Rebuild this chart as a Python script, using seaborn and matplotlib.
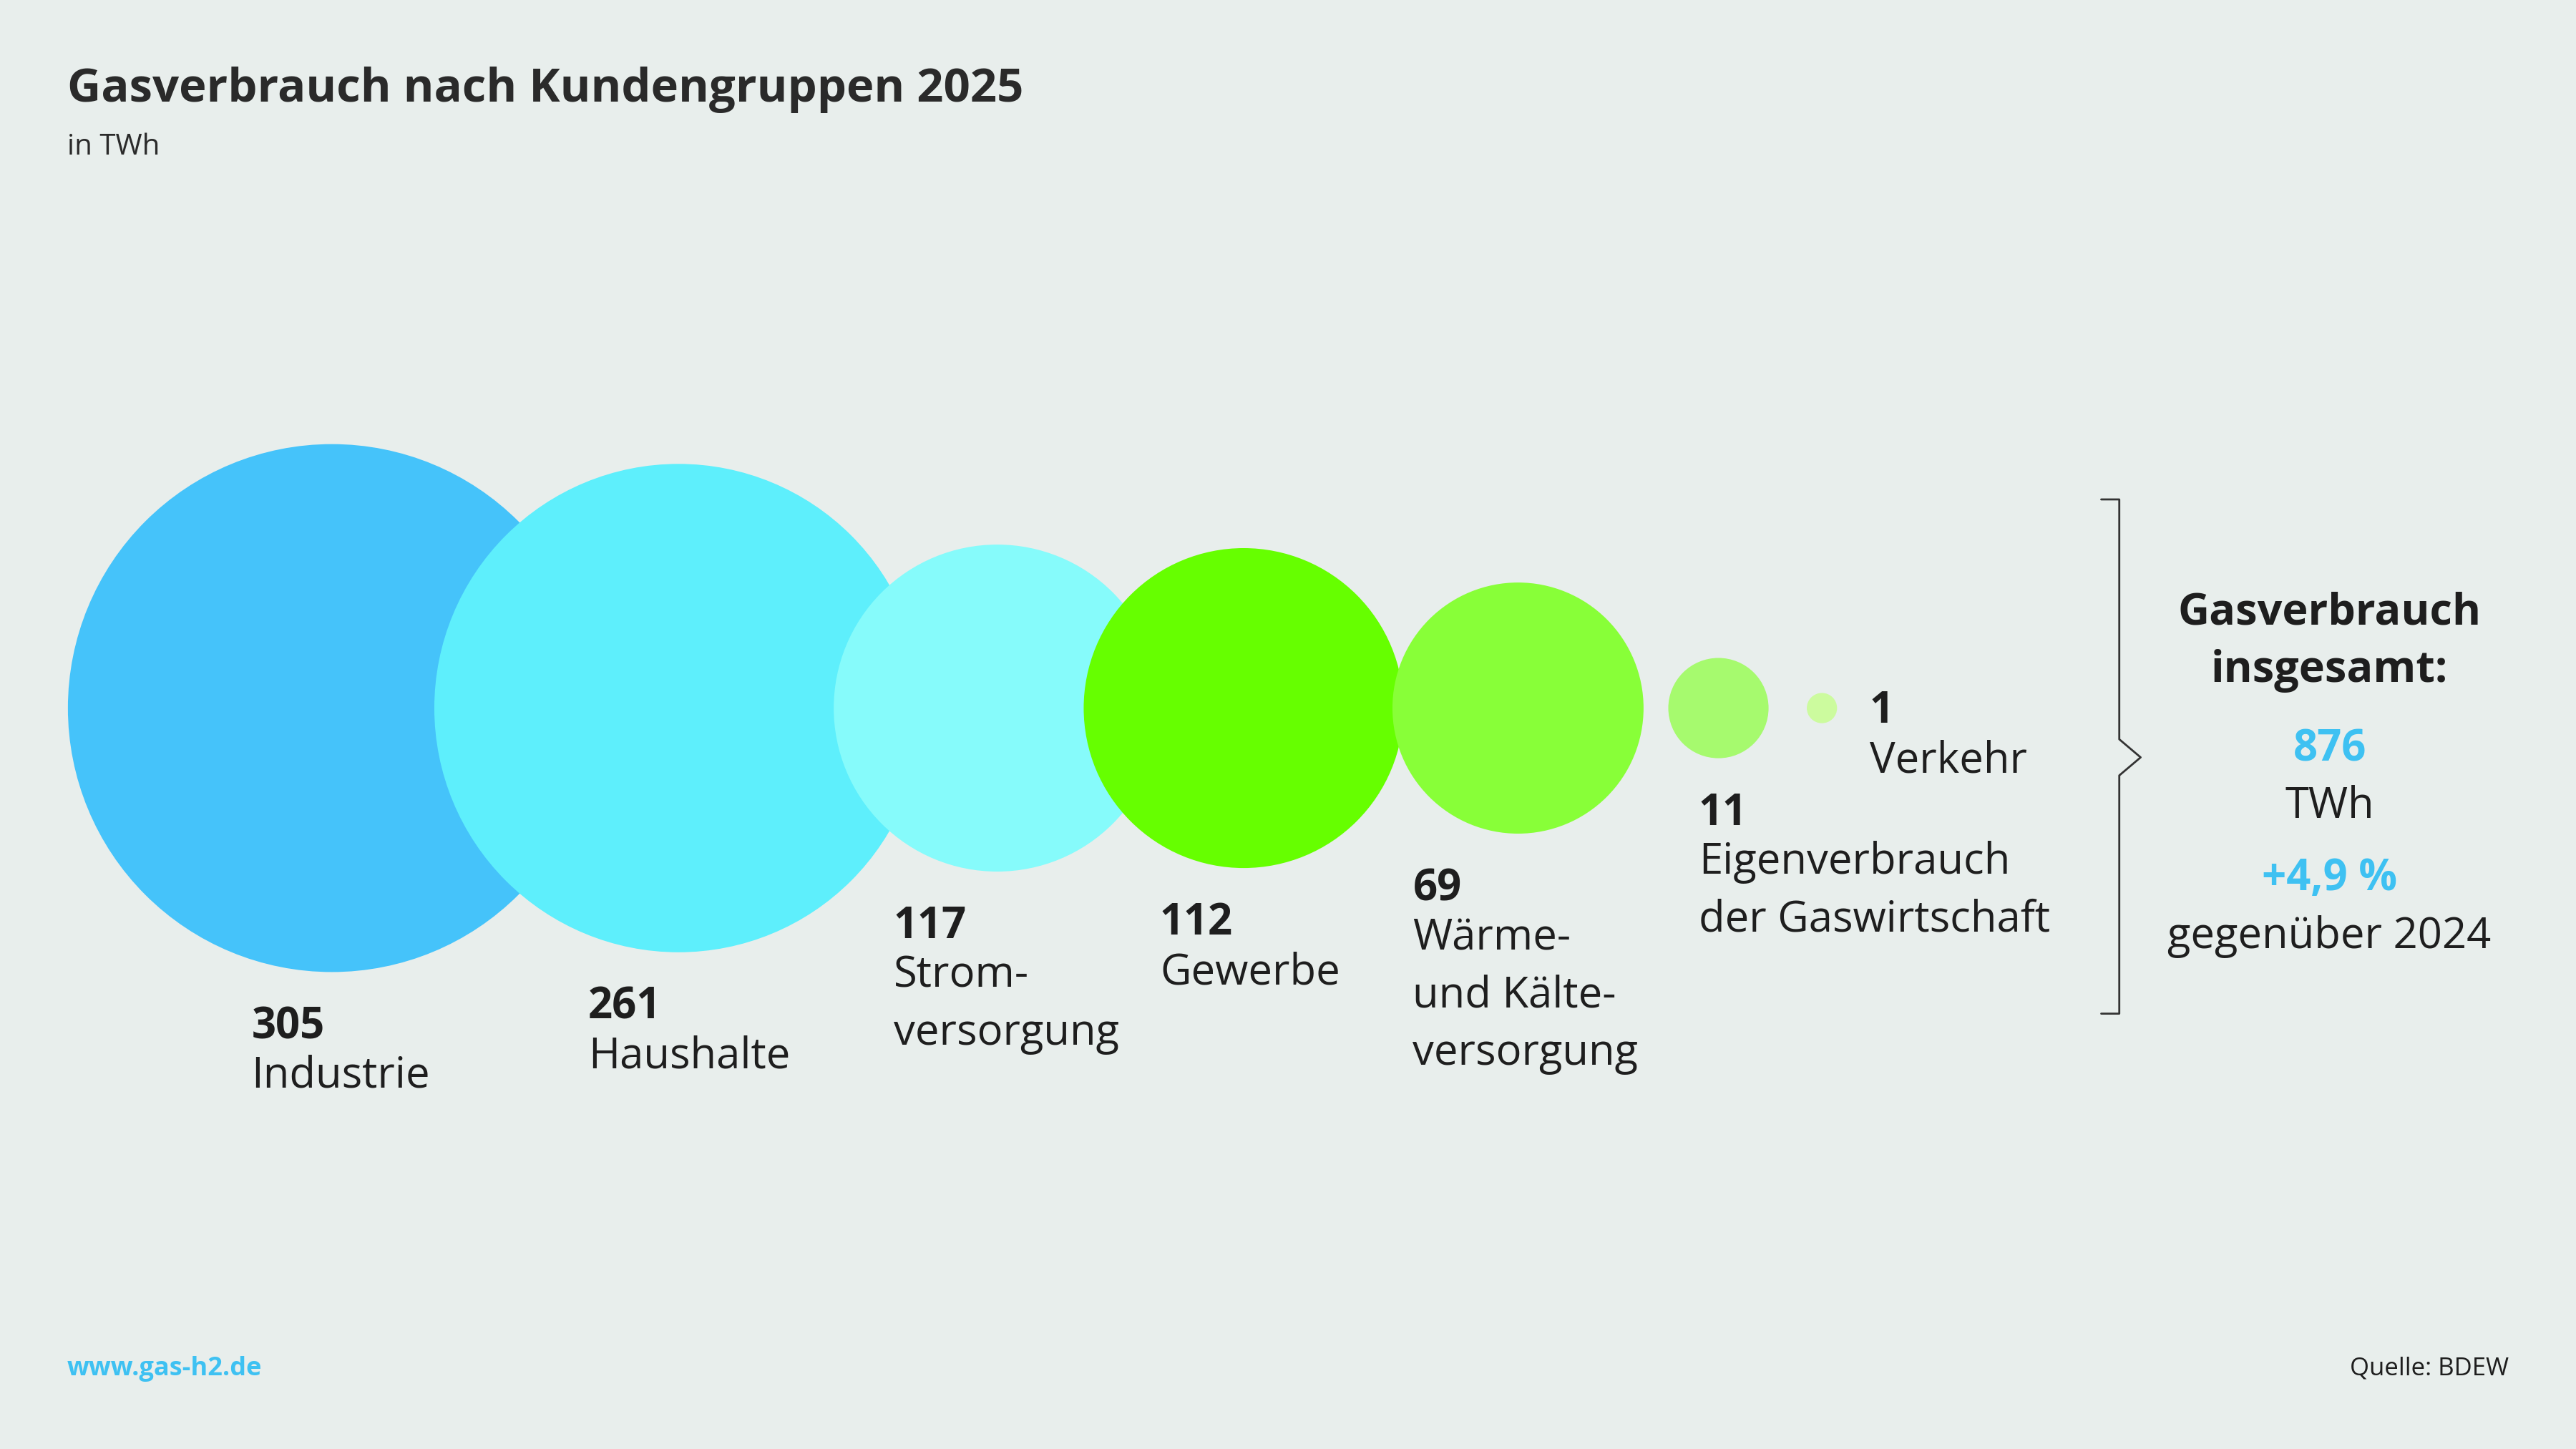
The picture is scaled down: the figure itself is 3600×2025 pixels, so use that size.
import matplotlib
matplotlib.use("Agg")
import matplotlib.pyplot as plt
from matplotlib.patches import Circle
import seaborn as sns

categories = ["Industrie", "Haushalte", "Strom-\nversorgung", "Gewerbe",
              "Wärme-\nund Kälte-\nversorgung", "Eigenverbrauch\nder Gaswirtschaft", "Verkehr"]
values = [305, 261, 117, 112, 69, 11, 1]
colors = ["#45C3FA", "#5EEFFC", "#86FBFB", "#66FF00", "#88FF38", "#A6FA6E", "#CCFB9E"]
centers_x = [202, 413, 607, 757, 924, 1046, 1109]
label_pos = [(153, 632), (358, 620), (544, 571), (706, 569), (860, 548), (1034, 502), (1138, 440)]
total = "876"
change = "+4,9 %"

BG = "#E8EEEC"
BLUE = "#3EC1F2"
DARK = "#1E1E1E"

sns.set_theme(style="white")
plt.rcParams["font.family"] = ["Open Sans", "DejaVu Sans"]

fig = plt.figure(figsize=(36, 20.25), dpi=100, facecolor=BG)
ax = fig.add_axes([0, 0, 1, 1])
ax.set_facecolor(BG)
ax.set_xlim(0, 1568)
ax.set_ylim(882, 0)
ax.set_aspect("equal")
ax.axis("off")

cy = 431
k = 9.2
for v, c, x in zip(values, colors, centers_x):
    ax.add_patch(Circle((x, cy), k * v ** 0.5, color=c, lw=0))

lab_fs = 43
for v, cat, (lx, ly) in zip(values, categories, label_pos):
    ax.text(lx, ly, str(v), fontsize=lab_fs, fontweight="bold", color=DARK, va="baseline", ha="left")
    for i, line in enumerate(cat.split("\n")):
        ax.text(lx, ly + 30 + 35 * i, line, fontsize=lab_fs, color=DARK, va="baseline", ha="left")

ax.text(41, 62, "Gasverbrauch nach Kundengruppen 2025", fontsize=47, fontweight="bold",
        color="#2A2A2A", va="baseline")
ax.text(41, 94, "in TWh", fontsize=29, color="#2A2A2A", va="baseline")
ax.text(41, 837, "www.gas-h2.de", fontsize=26, fontweight="bold", color=BLUE, va="baseline")
ax.text(1527, 837, "Quelle: BDEW", fontsize=25, color="#1E1E1E", va="baseline", ha="right")

bx = 1290
ax.plot([1279, bx, bx, 1303, bx, bx, 1279], [304, 304, 450, 461, 472, 617, 617],
        color="#333333", lw=2)

rx = 1418
ax.text(rx, 380, "Gasverbrauch", fontsize=44, fontweight="bold", color=DARK, ha="center", va="baseline")
ax.text(rx, 415, "insgesamt:", fontsize=44, fontweight="bold", color=DARK, ha="center", va="baseline")
ax.text(rx, 463, total, fontsize=43, fontweight="bold", color=BLUE, ha="center", va="baseline")
ax.text(rx, 498, "TWh", fontsize=43, color=DARK, ha="center", va="baseline")
ax.text(rx, 542, change, fontsize=43, fontweight="bold", color=BLUE, ha="center", va="baseline")
ax.text(rx, 577, "gegenüber 2024", fontsize=43, color=DARK, ha="center", va="baseline")

fig.savefig("out.png", dpi=100, facecolor=BG)
